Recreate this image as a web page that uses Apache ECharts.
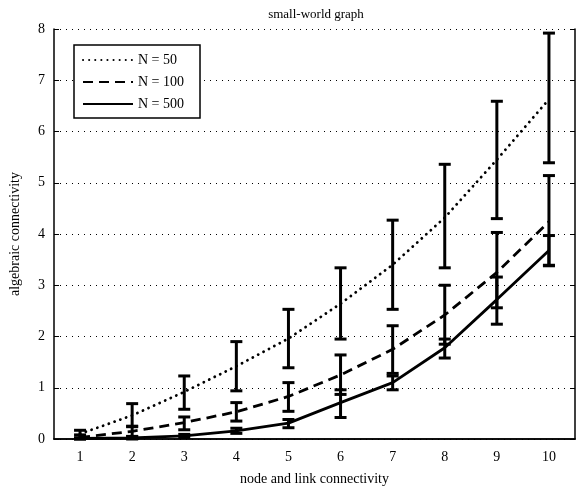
<!DOCTYPE html>
<html>
<head>
<meta charset="utf-8">
<script src="https://cdn.jsdelivr.net/npm/echarts@6/dist/echarts.min.js"></script>
<style>
    html, body { margin: 0; padding: 0; background: #fff; }
    #main { width: 584px; height: 491px; }
</style>
</head>
<body>
<div id="main"></div>
<script>
// node and link connectivity
const categories = ['1', '2', '3', '4', '5', '6', '7', '8', '9', '10'];
const yTicks = [0, 1, 2, 3, 4, 5, 6, 7, 8];

// N = 50
const n50Mean = [0.10, 0.46, 0.92, 1.42, 1.96, 2.64, 3.40, 4.32, 5.45, 6.63];
const n50Low = [0.02, 0.24, 0.58, 0.94, 1.39, 1.95, 2.53, 3.34, 4.30, 5.39];
const n50High = [0.17, 0.69, 1.23, 1.90, 2.53, 3.34, 4.27, 5.36, 6.59, 7.92];
// N = 100
const n100Mean = [0.03, 0.15, 0.32, 0.53, 0.83, 1.25, 1.75, 2.42, 3.25, 4.24];
const n100Low = [0.00, 0.05, 0.18, 0.35, 0.54, 0.87, 1.28, 1.85, 2.56, 3.39];
const n100High = [0.08, 0.25, 0.43, 0.71, 1.10, 1.64, 2.21, 3.00, 4.03, 5.14];
// N = 500
const n500Mean = [0.01, 0.02, 0.06, 0.16, 0.31, 0.71, 1.10, 1.78, 2.72, 3.68];
const n500Low = [0.00, 0.00, 0.03, 0.11, 0.22, 0.42, 0.96, 1.58, 2.24, 3.38];
const n500High = [0.02, 0.05, 0.09, 0.21, 0.38, 0.96, 1.23, 1.95, 3.16, 3.97];

const FONT = '"Liberation Serif", "DejaVu Serif", serif';

function errData(low, high) {
    return categories.map((c, i) => [i, low[i], high[i]]);
}

function renderErr(params, api) {
    const lo = api.coord([api.value(0), api.value(1)]);
    const hi = api.coord([api.value(0), api.value(2)]);
    const w = 6;
    const style = {stroke: '#000', lineWidth: 3};
    return {
        type: 'group',
        children: [
            {type: 'line', shape: {x1: lo[0], y1: lo[1], x2: hi[0], y2: hi[1]}, style: style},
            {type: 'line', shape: {x1: lo[0] - w, y1: lo[1], x2: lo[0] + w, y2: lo[1]}, style: style},
            {type: 'line', shape: {x1: hi[0] - w, y1: hi[1], x2: hi[0] + w, y2: hi[1]}, style: style}
        ]
    };
}

function lineSeries(name, data, type, cap) {
    return {
        name: name,
        type: 'line',
        data: data,
        symbol: 'none',
        z: 3,
        lineStyle: {color: '#000', width: 2.8, type: type, cap: cap},
        itemStyle: {color: '#000'}
    };
}

function errSeries(low, high) {
    return {
        type: 'custom',
        renderItem: renderErr,
        data: errData(low, high),
        encode: {x: 0, y: [1, 2]},
        z: 4,
        silent: true
    };
}

const chart = echarts.init(document.getElementById('main'));

const axisLabelStyle = {color: '#000', fontFamily: FONT, fontSize: 14};

const option = {
    animation: false,
    backgroundColor: '#fff',
    title: {
        text: 'small-world graph',
        left: 311,
        textAlign: 'center',
        top: 3,
        textStyle: {fontFamily: FONT, fontSize: 13, fontWeight: 'normal', color: '#000'}
    },
    legend: {
        orient: 'vertical',
        left: 74,
        top: 45,
        padding: [8, 16, 7, 8],
        itemGap: 8,
        itemWidth: 50,
        itemHeight: 14,
        borderColor: '#000',
        borderWidth: 1.5,
        backgroundColor: '#fff',
        itemStyle: {opacity: 0},
        textStyle: {fontFamily: FONT, fontSize: 14, color: '#000'},
        data: ['N = 50', 'N = 100', 'N = 500']
    },
    grid: {left: 48, right: 9, top: 29, bottom: 47},
    xAxis: [
        {
            type: 'category',
            data: categories,
            boundaryGap: true,
            name: 'node and link connectivity',
            nameLocation: 'middle',
            nameGap: 33,
            nameTextStyle: {fontFamily: FONT, fontSize: 14, color: '#000'},
            axisLine: {lineStyle: {color: '#000', width: 1.5}},
            axisTick: {inside: true, alignWithLabel: true, length: 5, lineStyle: {color: '#000'}},
            axisLabel: Object.assign({margin: 11}, axisLabelStyle),
            splitLine: {show: false}
        },
        {
            type: 'category',
            data: categories,
            position: 'top',
            boundaryGap: true,
            axisLine: {lineStyle: {color: '#000', width: 1.5}},
            axisTick: {inside: true, alignWithLabel: true, length: 5, lineStyle: {color: '#000'}},
            axisLabel: {show: false},
            splitLine: {show: false}
        }
    ],
    yAxis: [
        {
            type: 'value',
            min: yTicks[0],
            max: yTicks[yTicks.length - 1],
            interval: 1,
            name: 'algebraic connectivity',
            nameLocation: 'middle',
            nameGap: 32,
            nameTextStyle: {fontFamily: FONT, fontSize: 14, color: '#000'},
            axisLine: {show: true, lineStyle: {color: '#000', width: 1.5}},
            axisTick: {show: true, inside: true, length: 5, lineStyle: {color: '#000'}},
            axisLabel: Object.assign({margin: 9}, axisLabelStyle),
            splitLine: {show: true, lineStyle: {color: '#000', type: [1, 5], width: 1}}
        },
        {
            type: 'value',
            position: 'right',
            min: yTicks[0],
            max: yTicks[yTicks.length - 1],
            interval: 1,
            axisLine: {show: true, lineStyle: {color: '#000', width: 1.5}},
            axisTick: {show: true, inside: true, length: 5, lineStyle: {color: '#000'}},
            axisLabel: {show: false},
            splitLine: {show: false}
        }
    ],
    series: [
        lineSeries('N = 50', n50Mean, [0.1, 6], 'round'),
        lineSeries('N = 100', n100Mean, [10, 6], 'butt'),
        lineSeries('N = 500', n500Mean, 'solid', 'butt'),
        errSeries(n50Low, n50High),
        errSeries(n100Low, n100High),
        errSeries(n500Low, n500High)
    ]
};

chart.setOption(option);
</script>
</body>
</html>
